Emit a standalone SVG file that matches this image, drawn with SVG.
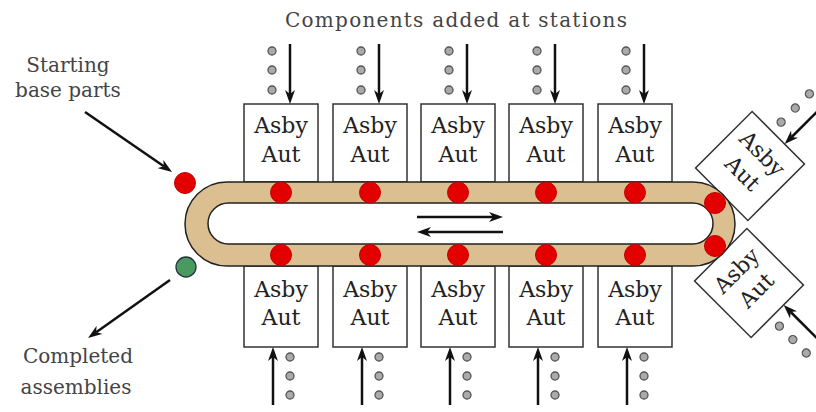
<svg xmlns="http://www.w3.org/2000/svg" width="816" height="412" viewBox="0 0 816 412">
<style>
  .box{fill:#fff;stroke:#333;stroke-width:1.5}
  .bt{font-family:"DejaVu Serif","Liberation Serif",serif;font-size:22px;fill:#222;text-anchor:middle}
  .lbl{font-family:"DejaVu Serif","Liberation Serif",serif;font-size:20px;fill:#444;text-anchor:middle}
  .arr{stroke:#111;stroke-width:2.5;fill:none;marker-end:url(#ah)}
  .part{fill:#aaa;stroke:#555;stroke-width:1.3}
  .dot{fill:#e30000;stroke:#c00000;stroke-width:1}
</style>
<defs>
  <marker id="ah" viewBox="0 0 14 10" refX="4" refY="5" markerWidth="14" markerHeight="10" orient="auto" markerUnits="userSpaceOnUse">
    <path d="M0,0 L14,5 L0,10 L4,5 z" fill="#111"/>
  </marker>
</defs>
<rect width="816" height="412" fill="#fff"/>

<text class="lbl" x="456" y="27" textLength="342" lengthAdjust="spacing">Components added at stations</text>
<text class="lbl" x="68" y="72">Starting</text>
<text class="lbl" x="68" y="97">base parts</text>
<text class="lbl" x="78" y="363">Completed</text>
<text class="lbl" x="76" y="394">assemblies</text>

<g id="stations-top">
  <g id="top-1"><rect class="box" x="244" y="104" width="74" height="78"/><text class="bt" x="281" y="133">Asby</text><text class="bt" x="281" y="162">Aut</text></g>
  <g id="top-2"><rect class="box" x="333" y="104" width="74" height="78"/><text class="bt" x="370" y="133">Asby</text><text class="bt" x="370" y="162">Aut</text></g>
  <g id="top-3"><rect class="box" x="421" y="104" width="74" height="78"/><text class="bt" x="458" y="133">Asby</text><text class="bt" x="458" y="162">Aut</text></g>
  <g id="top-4"><rect class="box" x="509" y="104" width="74" height="78"/><text class="bt" x="546" y="133">Asby</text><text class="bt" x="546" y="162">Aut</text></g>
  <g id="top-5"><rect class="box" x="598" y="104" width="74" height="78"/><text class="bt" x="635" y="133">Asby</text><text class="bt" x="635" y="162">Aut</text></g>
</g>
<g id="stations-bottom">
  <g id="bot-1"><rect class="box" x="244" y="266" width="74" height="81"/><text class="bt" x="281" y="297">Asby</text><text class="bt" x="281" y="325">Aut</text></g>
  <g id="bot-2"><rect class="box" x="333" y="266" width="74" height="81"/><text class="bt" x="370" y="297">Asby</text><text class="bt" x="370" y="325">Aut</text></g>
  <g id="bot-3"><rect class="box" x="421" y="266" width="74" height="81"/><text class="bt" x="458" y="297">Asby</text><text class="bt" x="458" y="325">Aut</text></g>
  <g id="bot-4"><rect class="box" x="509" y="266" width="74" height="81"/><text class="bt" x="546" y="297">Asby</text><text class="bt" x="546" y="325">Aut</text></g>
  <g id="bot-5"><rect class="box" x="598" y="266" width="74" height="81"/><text class="bt" x="635" y="297">Asby</text><text class="bt" x="635" y="325">Aut</text></g>
</g>
<g id="station-right-top" transform="translate(750,166) rotate(45)">
  <rect class="box" x="-37" y="-40" width="74" height="80"/><text class="bt" x="0" y="-10">Asby</text><text class="bt" x="0" y="18">Aut</text>
</g>
<g id="station-right-bottom" transform="translate(749,283) rotate(-45)">
  <rect class="box" x="-37" y="-40" width="74" height="80"/><text class="bt" x="0" y="-10">Asby</text><text class="bt" x="0" y="18">Aut</text>
</g>

<g id="conveyor">
  <rect x="185" y="182" width="550" height="84" rx="42" ry="42" fill="#dbbf90" stroke="#222" stroke-width="1.5"/>
  <rect x="208" y="203" width="505" height="41" rx="20.5" ry="20.5" fill="#fff" stroke="#222" stroke-width="1.5"/>
</g>

<g id="parts-on-conveyor">
  <circle class="dot" cx="281" cy="192.5" r="10.5"/><circle class="dot" cx="370" cy="192.5" r="10.5"/><circle class="dot" cx="458" cy="192.5" r="10.5"/><circle class="dot" cx="546" cy="192.5" r="10.5"/><circle class="dot" cx="635" cy="192.5" r="10.5"/>
  <circle class="dot" cx="281" cy="255" r="10.5"/><circle class="dot" cx="370" cy="255" r="10.5"/><circle class="dot" cx="458" cy="255" r="10.5"/><circle class="dot" cx="546" cy="255" r="10.5"/><circle class="dot" cx="635" cy="255" r="10.5"/>
  <circle class="dot" cx="715" cy="203" r="10.5"/><circle class="dot" cx="715" cy="246" r="10.5"/>
  <circle id="base-part" class="dot" cx="185" cy="183" r="10.5" stroke="#900"/>
  <circle id="completed" cx="186" cy="267" r="10" fill="#4a9a60" stroke="#234" stroke-width="1.3"/>
</g>

<g id="components">
  <g><circle class="part" cx="272" cy="51" r="4"/><circle class="part" cx="272" cy="70" r="4"/><circle class="part" cx="272" cy="90" r="4"/></g>
  <g><circle class="part" cx="361" cy="51" r="4"/><circle class="part" cx="361" cy="70" r="4"/><circle class="part" cx="361" cy="90" r="4"/></g>
  <g><circle class="part" cx="449" cy="51" r="4"/><circle class="part" cx="449" cy="70" r="4"/><circle class="part" cx="449" cy="90" r="4"/></g>
  <g><circle class="part" cx="537" cy="51" r="4"/><circle class="part" cx="537" cy="70" r="4"/><circle class="part" cx="537" cy="90" r="4"/></g>
  <g><circle class="part" cx="626" cy="51" r="4"/><circle class="part" cx="626" cy="70" r="4"/><circle class="part" cx="626" cy="90" r="4"/></g>
  <g><circle class="part" cx="290" cy="357" r="4"/><circle class="part" cx="290" cy="376" r="4"/><circle class="part" cx="290" cy="395" r="4"/></g>
  <g><circle class="part" cx="379" cy="357" r="4"/><circle class="part" cx="379" cy="376" r="4"/><circle class="part" cx="379" cy="395" r="4"/></g>
  <g><circle class="part" cx="467" cy="357" r="4"/><circle class="part" cx="467" cy="376" r="4"/><circle class="part" cx="467" cy="395" r="4"/></g>
  <g><circle class="part" cx="555" cy="357" r="4"/><circle class="part" cx="555" cy="376" r="4"/><circle class="part" cx="555" cy="395" r="4"/></g>
  <g><circle class="part" cx="644" cy="357" r="4"/><circle class="part" cx="644" cy="376" r="4"/><circle class="part" cx="644" cy="395" r="4"/></g>
  <g transform="translate(750,166) rotate(45)"><circle class="part" cx="-9" cy="-53" r="4"/><circle class="part" cx="-9" cy="-73" r="4"/><circle class="part" cx="-9" cy="-93" r="4"/></g>
  <g transform="translate(749,283) rotate(-45)"><circle class="part" cx="-9" cy="52" r="4"/><circle class="part" cx="-9" cy="71" r="4"/><circle class="part" cx="-9" cy="90" r="4"/></g>
</g>

<g id="connectors">
  <line class="arr" x1="290" y1="44" x2="290" y2="94"/>
  <line class="arr" x1="379" y1="44" x2="379" y2="94"/>
  <line class="arr" x1="467" y1="44" x2="467" y2="94"/>
  <line class="arr" x1="555" y1="44" x2="555" y2="94"/>
  <line class="arr" x1="644" y1="44" x2="644" y2="94"/>
  <line class="arr" x1="273" y1="405" x2="273" y2="357"/>
  <line class="arr" x1="362" y1="405" x2="362" y2="357"/>
  <line class="arr" x1="450" y1="405" x2="450" y2="357"/>
  <line class="arr" x1="538" y1="405" x2="538" y2="357"/>
  <line class="arr" x1="627" y1="405" x2="627" y2="357"/>
  <g transform="translate(750,166) rotate(45)"><line class="arr" x1="9" y1="-105" x2="9" y2="-50"/></g>
  <g transform="translate(749,283) rotate(-45)"><line class="arr" x1="9" y1="105" x2="9" y2="50"/></g>
  <line class="arr" x1="417" y1="217" x2="493" y2="217"/>
  <line class="arr" x1="503" y1="232" x2="427" y2="232"/>
  <line class="arr" x1="85" y1="112" x2="163.8" y2="166.3"/>
  <line class="arr" x1="170" y1="280" x2="96.2" y2="332.2"/>
</g>
</svg>
